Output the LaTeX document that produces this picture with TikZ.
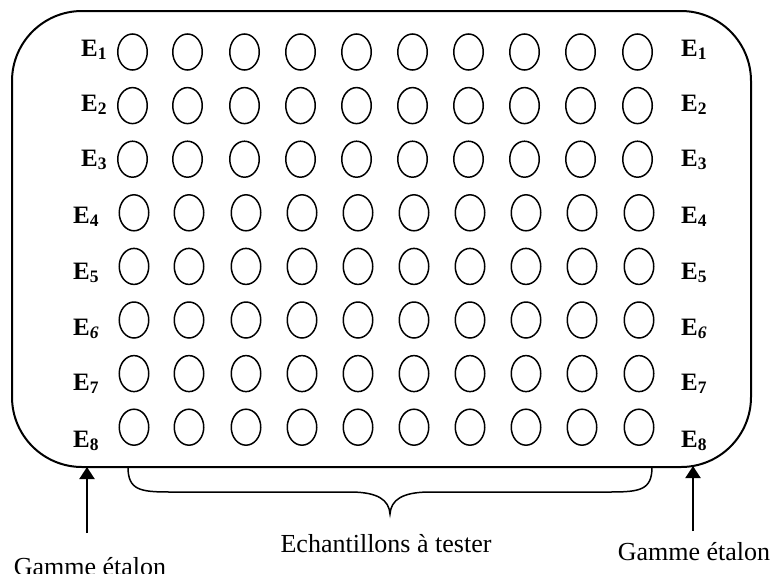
\documentclass[tikz,border=0pt]{standalone}
\usepackage{fontspec}
\setmainfont{Liberation Serif}
\usetikzlibrary{shapes.geometric,arrows.meta}
\newcommand\mysub[1]{\raisebox{-3pt}{\fontsize{17.5}{17.5}\selectfont #1}}
\begin{document}
\begin{tikzpicture}[x=1pt,y=-1pt,
  well/.style={draw,ellipse,line width=1.5pt,minimum width=29.5pt,minimum height=36pt,inner sep=0pt},
  lab/.style={anchor=base west,inner sep=0pt,font=\fontsize{25}{25}\selectfont\bfseries},
  captext/.style={anchor=base,inner sep=0pt,font=\fontsize{26}{26}\selectfont},
  plate/.style={draw,line width=2pt,rounded corners=70pt,minimum width=739pt,minimum height=456pt,inner sep=0pt},
  arr/.style={line width=2pt,-{Triangle[length=12pt,width=15pt]}},
  bracepath/.style={line width=1.5pt}]
\useasboundingbox (0,0) rectangle (773,573);
\node[plate] (plate) at (381.5,239) {};
\foreach \r in {1,...,8} {
  \pgfmathsetmacro\yc{52+53.6*(\r-1)}
  \pgfmathsetmacro\dx{\r<4 ? -1.5 : 0}
  \foreach \c/\xc in {1/134,2/189,3/246,4/302,5/358,6/414,7/470,8/526,9/582,10/639} {
    \node[well] (w-\r-\c) at (\xc+\dx,\yc) {};
  }
}
% left labels
\node[lab] (l1) at (81,56) {E\mysub{1}};
\node[lab] (l2) at (81,111.5) {E\mysub{2}};
\node[lab] (l3) at (81,166.5) {E\mysub{3}};
\node[lab] (l4) at (73,223) {E\mysub{4}};
\node[lab] (l5) at (73,279) {E\mysub{5}};
\node[lab] (l6) at (73,335) {E\mysub{\textit{6}}};
\node[lab] (l7) at (73,390.5) {E\mysub{7}};
\node[lab] (l8) at (73,447) {E\mysub{8}};
% right labels
\node[lab] (r1) at (681,56) {E\mysub{1}};
\node[lab] (r2) at (681,111.5) {E\mysub{2}};
\node[lab] (r3) at (681,166.5) {E\mysub{3}};
\node[lab] (r4) at (681,223) {E\mysub{4}};
\node[lab] (r5) at (681,279) {E\mysub{5}};
\node[lab] (r6) at (681,335) {E\mysub{\textit{6}}};
\node[lab] (r7) at (681,390.5) {E\mysub{7}};
\node[lab] (r8) at (681,447) {E\mysub{8}};
% brace
\draw[bracepath] (128,467) .. controls (128,490) and (140,492) .. (170,492) -- (350,492)
  .. controls (378,492) and (389,500) .. (390,514)
  .. controls (391,500) and (402,492) .. (430,492) -- (610,492)
  .. controls (640,492) and (652,490) .. (652,467);
% captions
\node[captext] (ech) at (386,552) {Echantillons à tester};
\node[captext] (g1) at (90,575) {Gamme étalon};
\node[captext] (g2) at (694,560) {Gamme étalon};
% arrows
\coordinate (a1) at (87,533);
\coordinate (b1) at (87,467);
\coordinate (a2) at (693,531);
\coordinate (b2) at (693,466);
\draw[arr] (a1) -- (b1);
\draw[arr] (a2) -- (b2);
\end{tikzpicture}
\end{document}
